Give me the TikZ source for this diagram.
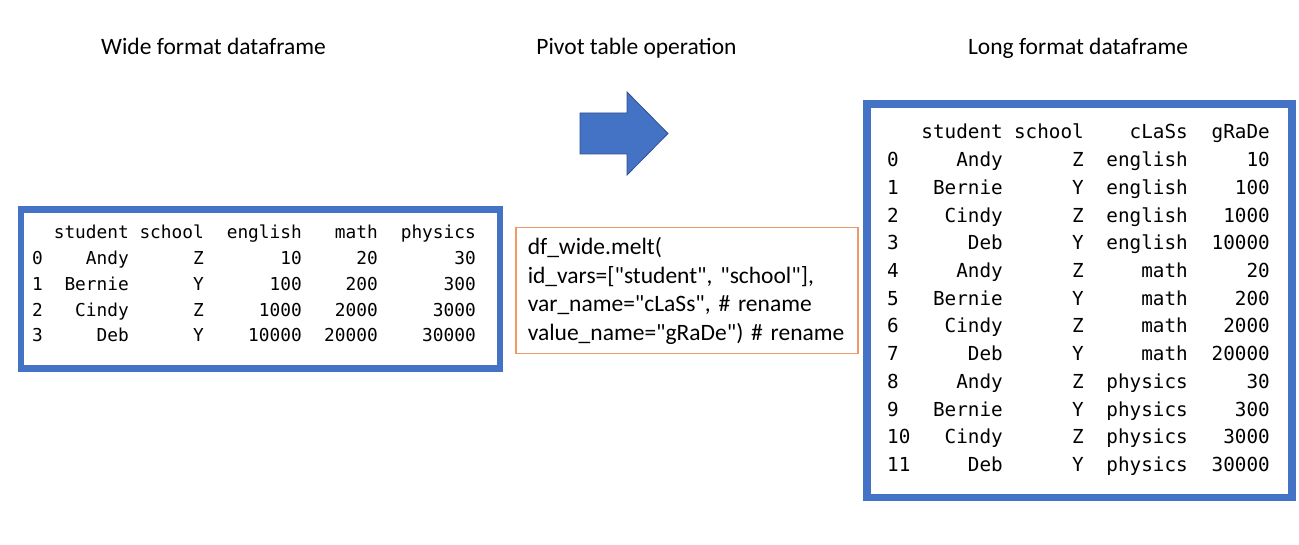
\documentclass[tikz,border=0pt]{standalone}
\usepackage{fontspec}
\setsansfont{Carlito}
\setmonofont{DejaVu Sans Mono}
\newfontfamily\codefont{Carlito}[Ligatures=TeXOff]
\usetikzlibrary{positioning}
\definecolor{frameblue}{HTML}{4472C4}
\definecolor{edgeblue}{HTML}{2F528F}
\definecolor{codeorange}{HTML}{EE9966}

\begin{document}
\begin{tikzpicture}[x=1pt,y=-1pt,
  title/.style={font=\sffamily\fontsize{23.5}{28}\selectfont,inner sep=0pt,anchor=base},
  tableframe/.style={draw=frameblue,fill=white},
  widecell/.style={font=\ttfamily\fontsize{17.8}{20}\selectfont,inner sep=0pt,anchor=base east},
  longcell/.style={font=\ttfamily\fontsize{19.3}{22}\selectfont,inner sep=0pt,anchor=base east},
  codebox/.style={draw=codeorange,line width=1.5pt,font=\codefont\fontsize{23.5}{28.5}\selectfont,
    execute at begin node={\hyphenpenalty=10000\relax}},
  pivotarrow/.style={fill=frameblue,draw=edgeblue,line width=0.8pt}]
\useasboundingbox (0,0) rectangle (1299,545);
% titles
\node[title] (widetitle) at (213.5,55) {Wide format dataframe};
\node[title] (pivottitle) at (636.5,55) {Pivot table operation};
\node[title] (longtitle) at (1078,55) {Long format dataframe};
% frames
\node[tableframe,line width=6.5pt,minimum width=479pt,minimum height=159pt] (wideframe) at (260.5,289) {};
\node[tableframe,line width=7.5pt,minimum width=425pt,minimum height=393.5pt] (longframe) at (1079.5,300.75) {};
% wide table
\node[widecell] (w-h-1) at (129,239) {student};
\node[widecell] (w-h-2) at (204,239) {school};
\node[widecell] (w-h-3) at (302,239) {english};
\node[widecell] (w-h-4) at (378,239) {math};
\node[widecell] (w-h-5) at (476,239) {physics};
\foreach \idx/\name/\sch/\eng/\mat/\phy [count=\r] in
  {0/Andy/Z/10/20/30,1/Bernie/Y/100/200/300,2/Cindy/Z/1000/2000/3000,3/Deb/Y/10000/20000/30000}
{
  \node[widecell,anchor=base west] (w-\r-0) at (32,{239+25.75*\r}) {\idx};
  \node[widecell] (w-\r-1) at (129,{239+25.75*\r}) {\name};
  \node[widecell] (w-\r-2) at (204,{239+25.75*\r}) {\sch};
  \node[widecell] (w-\r-3) at (302,{239+25.75*\r}) {\eng};
  \node[widecell] (w-\r-4) at (378,{239+25.75*\r}) {\mat};
  \node[widecell] (w-\r-5) at (476,{239+25.75*\r}) {\phy};
}
% long table
\node[longcell] (l-h-1) at (1003,139) {student};
\node[longcell] (l-h-2) at (1084,139) {school};
\node[longcell] (l-h-3) at (1188,139) {cLaSs};
\node[longcell] (l-h-4) at (1270,139) {gRaDe};
\foreach \idx/\name/\sch/\cls/\grd [count=\r from 0] in
  {0/Andy/Z/english/10,1/Bernie/Y/english/100,2/Cindy/Z/english/1000,3/Deb/Y/english/10000,
   4/Andy/Z/math/20,5/Bernie/Y/math/200,6/Cindy/Z/math/2000,7/Deb/Y/math/20000,
   8/Andy/Z/physics/30,9/Bernie/Y/physics/300,10/Cindy/Z/physics/3000,11/Deb/Y/physics/30000}
{
  \node[longcell,anchor=base west] (l-\r-0) at (887,{166.7+27.7*\r}) {\idx};
  \node[longcell] (l-\r-1) at (1003,{166.7+27.7*\r}) {\name};
  \node[longcell] (l-\r-2) at (1084,{166.7+27.7*\r}) {\sch};
  \node[longcell] (l-\r-3) at (1188,{166.7+27.7*\r}) {\cls};
  \node[longcell] (l-\r-4) at (1270,{166.7+27.7*\r}) {\grd};
}
% pivot arrow
\draw[pivotarrow] (580,113) -- (627,113) -- (627,92) -- (668,133.5) -- (627,175)
  -- (627,154) -- (580,154) -- cycle;
% melt call
\node[codebox,anchor=north west,minimum width=342pt,minimum height=126pt,
  text width=318pt,align=left,inner xsep=12pt,inner ysep=0pt] (meltcode) at (515,227)
  {df\_wide.melt(\\id\_vars=["student", "school"],\\var\_name="cLaSs", \# rename\\value\_name="gRaDe") \# rename};
\end{tikzpicture}
\end{document}
